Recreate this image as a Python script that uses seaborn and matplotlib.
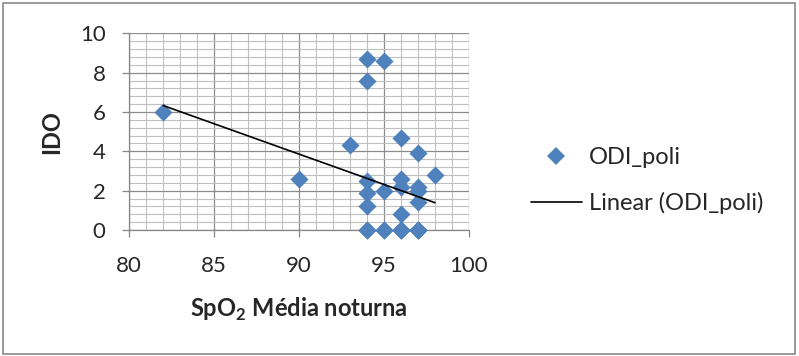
import numpy as np
import pandas as pd
import matplotlib
matplotlib.use("Agg")
import matplotlib.pyplot as plt
import seaborn as sns
from matplotlib.patches import Rectangle
from matplotlib.lines import Line2D
from matplotlib.ticker import MultipleLocator

# values (some zeros overlap in the cluster)
spo2 = [82, 90, 93,
        94, 94, 94, 94, 94, 94, 94,
        95, 95, 95, 95,
        96, 96, 96, 96, 96, 96, 96,
        97, 97, 97, 97, 97, 97, 97,
        98]
odi = [6.0, 2.6, 4.3,
       8.7, 7.6, 2.5, 1.9, 1.2, 0, 0,
       8.6, 2.0, 0, 0,
       4.7, 2.6, 2.2, 0.8, 0, 0, 0,
       3.9, 2.2, 2.0, 1.4, 0, 0, 0,
       2.8]
x_ticks = [80, 85, 90, 95, 100]
y_ticks = [0, 2, 4, 6, 8, 10]

df = pd.DataFrame({"spo2": spo2, "odi": odi})

sns.set_style("white")
plt.rcParams["font.family"] = ["Lato", "DejaVu Sans"]
plt.rcParams["mathtext.fontset"] = "custom"
plt.rcParams["mathtext.rm"] = "Lato"
plt.rcParams["mathtext.bf"] = "Lato:bold"

fig = plt.figure(figsize=(7.99, 3.56), dpi=100)
ax = fig.add_axes([0.1618, 0.3539, 0.4252, 0.5526])

blue = "#4F81BD"
sns.scatterplot(data=df, x="spo2", y="odi", marker="D", s=85, color=blue,
                linewidth=0, ax=ax, zorder=3, clip_on=False, legend=False)

# linear trendline over the data range
slope, icept = np.polyfit(df["spo2"], df["odi"], 1)
xs = np.array([df["spo2"].min(), df["spo2"].max()])
ax.plot(xs, slope * xs + icept, color="black", lw=1.2, zorder=4)

ax.set_xlim(80, 100)
ax.set_ylim(0, 10)
ax.set_xticks(x_ticks)
ax.set_yticks(y_ticks)
ax.xaxis.set_minor_locator(MultipleLocator(1))
ax.yaxis.set_minor_locator(MultipleLocator(0.4))
ax.grid(which="minor", color="#c0c0c0", lw=0.8, zorder=0)
ax.grid(which="major", color="#8c8c8c", lw=0.9, zorder=1)
ax.set_axisbelow(True)
for side in ["top", "right"]:
    ax.spines[side].set_visible(False)
for side in ["left", "bottom"]:
    ax.spines[side].set_color("#868686")
    ax.spines[side].set_linewidth(0.9)
ax.tick_params(which="major", direction="out", length=5, width=0.9,
               color="#868686", labelsize=16, bottom=True, left=True)
ax.tick_params(axis="x", pad=14)
ax.tick_params(axis="y", pad=12)
ax.tick_params(which="minor", length=0)

ax.set_xlabel("SpO$_\\mathbf{2}$ Média noturna", fontsize=17,
              fontweight="bold", labelpad=14)
ax.set_ylabel("IDO", fontsize=17, fontweight="bold", labelpad=12)

handles = [
    Line2D([], [], marker="D", color=blue, ls="none", markersize=9.5, mew=0),
    Line2D([], [], color="black", lw=1.2),
]
fig.legend(handles, ["ODI_poli", "Linear (ODI_poli)"],
           loc="center left", bbox_to_anchor=(0.638, 0.493), frameon=False,
           fontsize=17, handlelength=2.15, handletextpad=0.3, labelspacing=1.0)

fig.patches.append(Rectangle((0.004, 0.006), 0.991, 0.985, transform=fig.transFigure,
                             fill=False, edgecolor="#898989", lw=1.2))

fig.savefig("out.png", dpi=100)
